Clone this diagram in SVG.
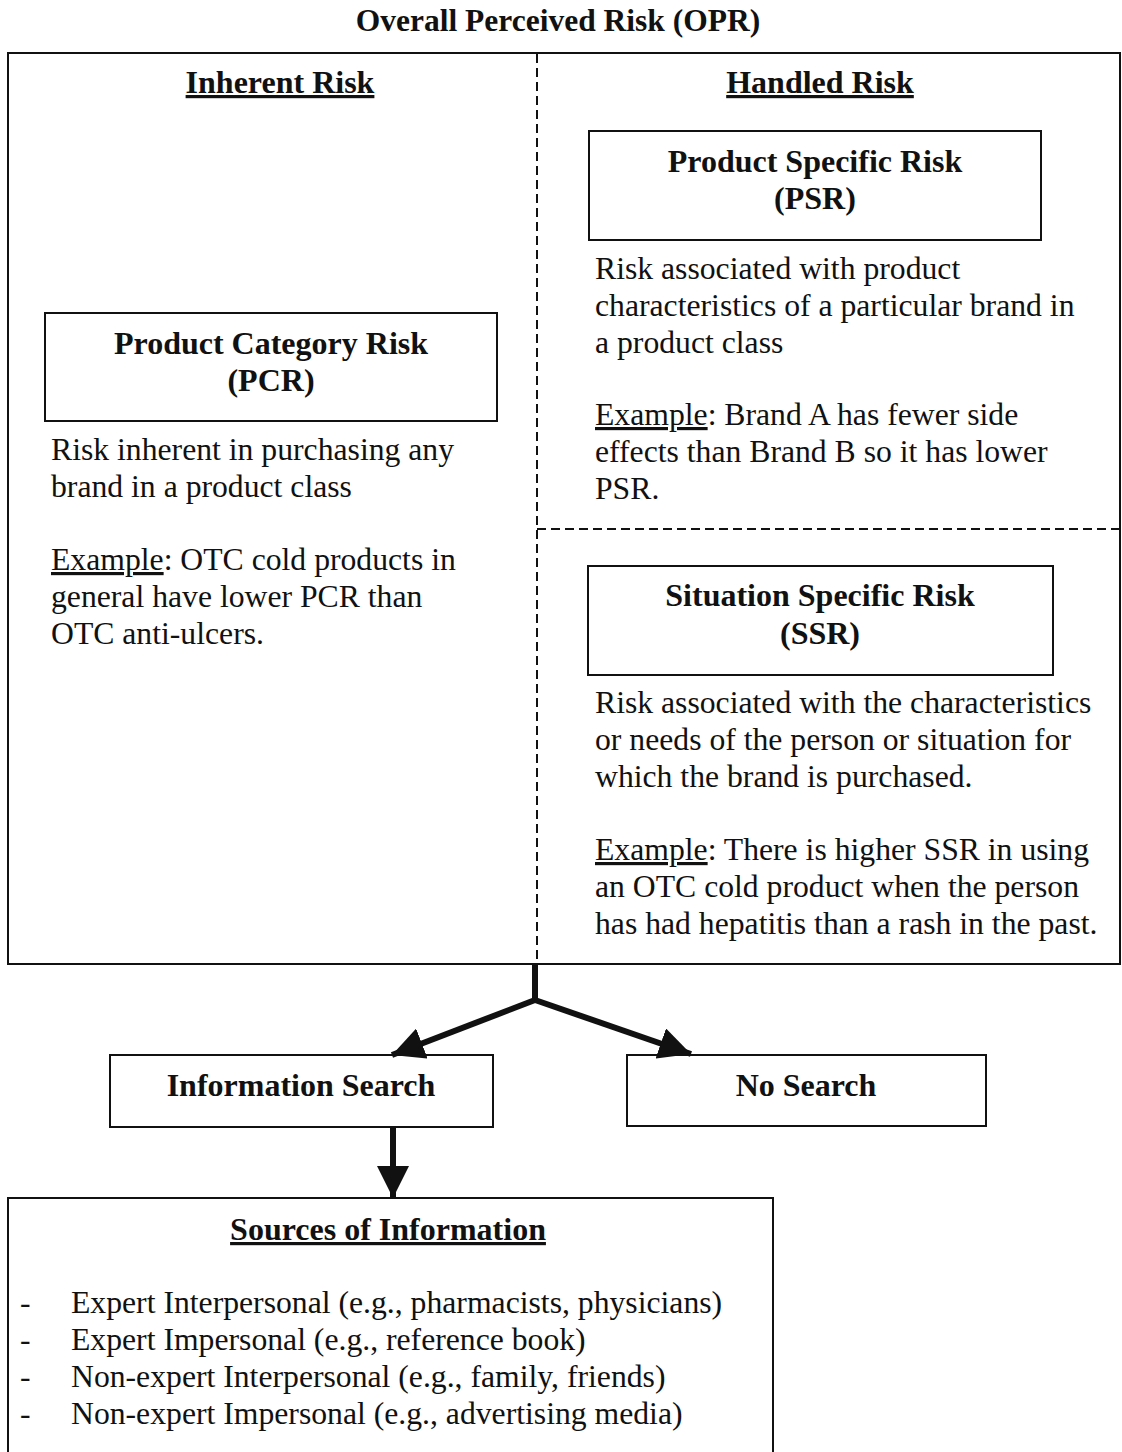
<svg xmlns="http://www.w3.org/2000/svg" width="1122" height="1452" viewBox="0 0 1122 1452">
<style>
.t{font-family:"Liberation Serif","Times New Roman",serif;fill:#111}
.b{font-weight:bold}
.h{font-size:32px;font-weight:bold;text-anchor:middle}
.body{font-size:31.7px}
.box{fill:none;stroke:#111;stroke-width:2}
.dash{fill:none;stroke:#111;stroke-width:2;stroke-dasharray:9,5}
.conn{fill:none;stroke:#111;stroke-width:6}
.u{text-decoration:underline}
</style>
<defs>
<marker id="ah" viewBox="0 0 10 10" refX="10" refY="5" markerWidth="32" markerHeight="32" markerUnits="userSpaceOnUse" orient="auto">
<path d="M0,0 L10,5 L0,10 z" fill="#111"/>
</marker>
</defs>
<rect width="1122" height="1452" fill="#fff"/>
<text class="t b" x="558" y="31" font-size="31.5" text-anchor="middle">Overall Perceived Risk (OPR)</text>

<g id="opr">
<rect class="box" x="8" y="53" width="1112" height="911"/>
<line class="dash" x1="537" y1="54" x2="537" y2="963"/>
<line class="dash" x1="537" y1="529" x2="1119" y2="529"/>
</g>

<g id="inherent">
<text class="t h u" x="280" y="93">Inherent Risk</text>
</g>
<g id="handled">
<text class="t h u" x="820" y="93">Handled Risk</text>
</g>

<g id="pcr">
<rect class="box" x="45" y="313" width="452" height="108"/>
<text class="t h" x="271" y="354">Product Category Risk</text>
<text class="t h" x="271" y="391">(PCR)</text>
<text class="t body" x="51" y="460">Risk inherent in purchasing any</text>
<text class="t body" x="51" y="497">brand in a product class</text>
<text class="t body" x="51" y="570"><tspan class="u">Example</tspan>: OTC cold products in</text>
<text class="t body" x="51" y="607">general have lower PCR than</text>
<text class="t body" x="51" y="644">OTC anti-ulcers.</text>
</g>

<g id="psr">
<rect class="box" x="589" y="131" width="452" height="109"/>
<text class="t h" x="815" y="172">Product Specific Risk</text>
<text class="t h" x="815" y="209">(PSR)</text>
<text class="t body" x="595" y="279">Risk associated with product</text>
<text class="t body" x="595" y="316">characteristics of a particular brand in</text>
<text class="t body" x="595" y="353">a product class</text>
<text class="t body" x="595" y="425"><tspan class="u">Example</tspan>: Brand A has fewer side</text>
<text class="t body" x="595" y="462">effects than Brand B so it has lower</text>
<text class="t body" x="595" y="499">PSR.</text>
</g>

<g id="ssr">
<rect class="box" x="588" y="566" width="465" height="109"/>
<text class="t h" x="820" y="606">Situation Specific Risk</text>
<text class="t h" x="820" y="644">(SSR)</text>
<text class="t body" x="595" y="713">Risk associated with the characteristics</text>
<text class="t body" x="595" y="750">or needs of the person or situation for</text>
<text class="t body" x="595" y="787">which the brand is purchased.</text>
<text class="t body" x="595" y="860"><tspan class="u">Example</tspan>: There is higher SSR in using</text>
<text class="t body" x="595" y="897">an OTC cold product when the person</text>
<text class="t body" x="595" y="934">has had hepatitis than a rash in the past.</text>
</g>

<g id="connectors">
<polyline class="conn" points="535,964 535,1000" />
<line class="conn" x1="535" y1="1000" x2="392" y2="1055" marker-end="url(#ah)"/>
<line class="conn" x1="535" y1="1000" x2="691" y2="1054" marker-end="url(#ah)"/>
<line class="conn" x1="393" y1="1128" x2="393" y2="1198" marker-end="url(#ah)"/>
</g>

<g id="info-search">
<rect class="box" x="110" y="1055" width="383" height="72"/>
<text class="t h" x="301" y="1096">Information Search</text>
</g>

<g id="no-search">
<rect class="box" x="627" y="1055" width="359" height="71"/>
<text class="t h" x="806" y="1096">No Search</text>
</g>

<g id="sources">
<rect class="box" x="8" y="1198" width="765" height="270"/>
<text class="t h u" x="388" y="1240">Sources of Information</text>
<text class="t body" x="20" y="1313">-</text>
<text class="t body" x="71" y="1313">Expert Interpersonal (e.g., pharmacists, physicians)</text>
<text class="t body" x="20" y="1350">-</text>
<text class="t body" x="71" y="1350">Expert Impersonal (e.g., reference book)</text>
<text class="t body" x="20" y="1387">-</text>
<text class="t body" x="71" y="1387">Non-expert Interpersonal (e.g., family, friends)</text>
<text class="t body" x="20" y="1424">-</text>
<text class="t body" x="71" y="1424">Non-expert Impersonal (e.g., advertising media)</text>
</g>
</svg>
